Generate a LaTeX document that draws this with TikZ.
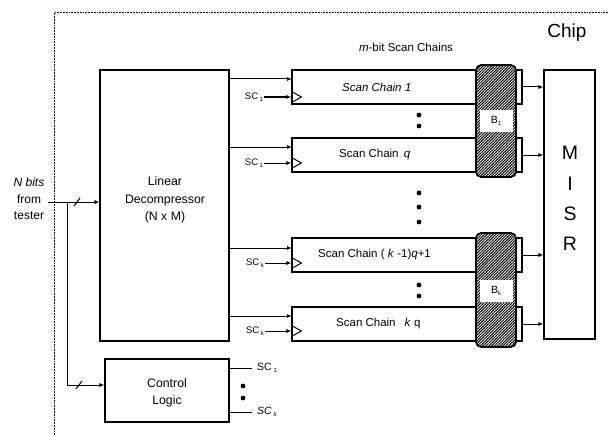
\documentclass[tikz,border=0pt]{standalone}
\usepackage{fontspec}
\setmainfont{Liberation Sans}
\usetikzlibrary{patterns.meta,arrows.meta}
\newcommand\subx[1]{\raisebox{-0.4ex}{\fontsize{6}{6}\selectfont #1}}
\begin{document}
\begin{tikzpicture}[x=1pt,y=-1pt,
  box/.style={draw, line width=1.1pt, inner sep=0pt},
  chain/.style={box, minimum width=230pt, minimum height=34pt},
  hatchbox/.style={draw, line width=1.6pt, rounded corners=5pt, minimum width=40pt,
     preaction={fill=white}, pattern={Lines[angle=45,distance=2pt,line width=1pt]}, pattern color=black},
  blabel/.style={fill=white, inner sep=0pt, minimum width=33pt, minimum height=22pt, font=\fontsize{10.5}{12}\selectfont},
  arr/.style={-{Latex[length=5pt,width=4pt]}, line width=1pt},
  wire/.style={line width=1pt},
  chtext/.style={anchor=west, font=\fontsize{11.5}{13}\selectfont, inner sep=0pt},
  sclab/.style={font=\fontsize{9.5}{11}\selectfont, inner sep=1pt},
  dotm/.style={circle, fill=black, inner sep=0pt, minimum size=4.8pt},
  clock/.style={line width=1pt},
  slash/.style={line width=1pt}
]
\useasboundingbox (0,0) rectangle (608,436);

% chip border
\coordinate (chipTL) at (54,13);
\coordinate (chipTR) at (608,13);
\coordinate (chipBL) at (54,436);
\draw[line width=1pt, dash pattern=on 1.8pt off 1pt] (chipTR) -- (chipTL) -- (chipBL);
\node[font=\fontsize{19}{22}\selectfont] (chip) at (567,33) {Chip};

% decompressor
\node[box, minimum width=129pt, minimum height=271pt] (dec) at (164.5,205.5) {};
\node[align=center, font=\fontsize{12.3}{17.5}\selectfont] (dect) at (165,200) {Linear\\Decompressor\\(N x M)};

% control logic
\node[box, minimum width=124pt, minimum height=63pt] (ctl) at (167,390.5) {};
\node[align=center, font=\fontsize{12.3}{17.5}\selectfont] (ctlt) at (167,393) {Control\\Logic};

% input
\node[font=\fontsize{12}{14}\selectfont\itshape] (nb) at (29,182) {N bits};
\node[font=\fontsize{12}{14}\selectfont] (fr) at (29,199) {from};
\node[font=\fontsize{12}{14}\selectfont] (ts) at (29,216) {tester};
\coordinate (in0) at (48,202);
\coordinate (br) at (67,202);
\coordinate (brd) at (67,385);
\draw[arr] (in0) -- (dec.west |- in0);
\draw[arr] (br) -- (brd) -- (ctl.west |- brd);
\draw[slash] (74,206) -- (80,198);
\draw[slash] (76,389) -- (82,381);

% scan chains
\node[chain] (c1) at (407,87) {};
\node[chain] (cq) at (407,155) {};
\node[chain] (ck1) at (407,255) {};
\node[chain] (ckq) at (407,324) {};
\node[font=\fontsize{11.5}{13}\selectfont] (title) at (406,47) {\textit{m}-bit Scan Chains};
\node[chtext] (c1t) at (342,87) {\itshape Scan Chain 1};
\node[chtext] (cqt) at (339,155) {Scan Chain \,\textit{q}};
\node[chtext] (ck1t) at (318,255) {Scan Chain ( \textit{k} -1)\textit{q}+1};
\node[chtext] (ckqt) at (336,324) {Scan Chain \enspace \textit{k} q};

% hatched blocks
\node[hatchbox, minimum height=112pt] (b1) at (496,121) {};
\node[blabel] (b1l) at (496,121) {B\subx{1}};
\node[hatchbox, minimum height=114pt] (bk) at (496,290) {};
\node[blabel] (bkl) at (496,291) {B\subx{k}};

% MISR
\node[box, minimum width=51pt, minimum height=269pt] (misr) at (569.5,204.5) {};
\node[align=center, font=\fontsize{19.5}{30.3}\selectfont] (misrt) at (570,198.5) {M\\I\\S\\R};

% outputs to MISR
\foreach \c in {c1,cq,ck1,ckq}{
  \draw[arr] (\c.east) -- (misr.west |- \c.east);
}

% data inputs
\coordinate (d1) at (292,79);
\coordinate (d2) at (292,147);
\coordinate (d3) at (292,248);
\coordinate (d4) at (292,316);
\foreach \d in {d1,d2,d3,d4}{
  \draw[arr] (dec.east |- \d) -- (\d);
}

% clock inputs
\node[sclab] (s1) at (254,97) {SC\,\subx{1}};
\node[sclab] (s2) at (254,163) {SC\,\subx{1}};
\node[sclab] (s3) at (255,263) {SC\,\subx{k}};
\node[sclab] (s4) at (255,331) {SC\,\subx{k}};
\foreach \s/\c in {s1/c1,s2/cq,s3/ck1,s4/ckq}{
  \draw[arr] (\s.east) -- (\c.west |- \s.east);
  \draw[clock] ([yshift=-5.5pt]\c.west |- \s.east) -- ([xshift=10pt]\c.west |- \s.east) -- ([yshift=5.5pt]\c.west |- \s.east);
}

% dots
\node[dotm] (p1) at (419,115) {};
\node[dotm] (p2) at (419,126) {};
\node[dotm] (p3) at (419,193) {};
\node[dotm] (p4) at (419,207) {};
\node[dotm] (p5) at (419,222) {};
\node[dotm] (p6) at (419,285) {};
\node[dotm] (p7) at (419,296) {};

% control outputs
\coordinate (o1) at (252,368);
\coordinate (o2) at (252,412);
\draw[wire] (ctl.east |- o1) -- (o1);
\draw[wire] (ctl.east |- o2) -- (o2);
\node[anchor=west, font=\fontsize{10.5}{12}\selectfont, inner sep=1pt] (cs1) at (256,368) {SC\,\subx{1}};
\node[anchor=west, font=\fontsize{10.5}{12}\selectfont\itshape, inner sep=1pt] (csk) at (256,412) {SC\,\subx{k}};
\node[dotm] (q1) at (243,386) {};
\node[dotm] (q2) at (243,398) {};
\end{tikzpicture}
\end{document}
